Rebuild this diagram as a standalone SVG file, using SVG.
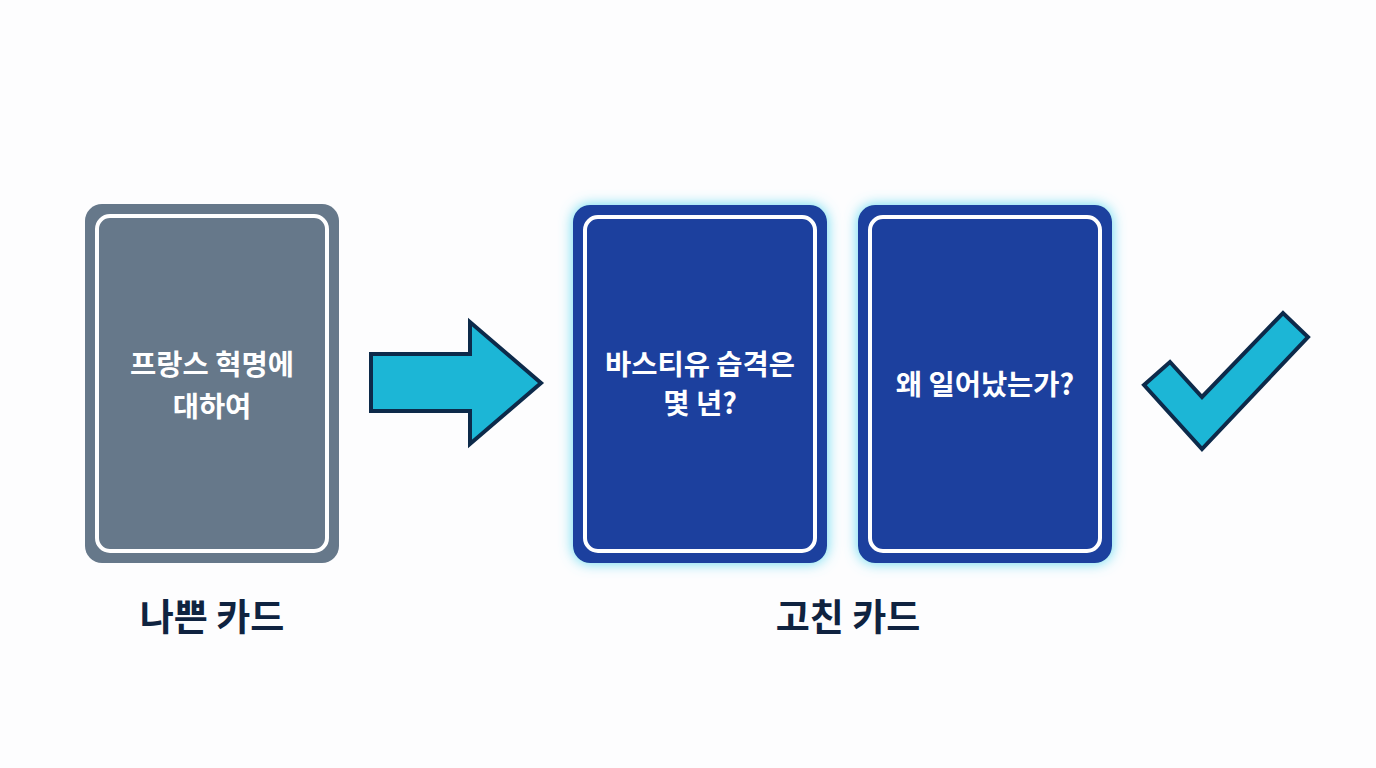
<svg xmlns="http://www.w3.org/2000/svg" width="1376" height="768" viewBox="0 0 1376 768">
<defs>
<filter id="glow" x="-20%" y="-20%" width="140%" height="140%">
<feGaussianBlur in="SourceAlpha" stdDeviation="7" result="b"/>
<feFlood flood-color="#5fd8f0" flood-opacity="1"/>
<feComposite in2="b" operator="in" result="g"/>
<feMerge><feMergeNode in="g"/><feMergeNode in="SourceGraphic"/></feMerge>
</filter>
<style>
.inner{fill:none;stroke:#ffffff;stroke-width:4}
.ct{font-family:"Noto Sans CJK KR","Noto Sans",sans-serif;font-weight:bold;font-size:28.5px;fill:#ffffff;text-anchor:middle}
.lbl{font-family:"Noto Sans CJK KR","Noto Sans",sans-serif;font-weight:bold;font-size:37px;fill:#0f2340;text-anchor:middle}
.sym{fill:#1cb6d6;stroke:#0d2a4a;stroke-width:4;stroke-linejoin:miter}
</style>
</defs>
<rect width="1376" height="768" fill="#fdfdfe"/>
<g id="bad-card">
<rect x="85" y="204" width="254" height="359" rx="17" fill="#66788a"/>
<rect x="97" y="216" width="230" height="335" rx="13" class="inner"/>
<text class="ct" x="212" y="375">프랑스 혁명에</text>
<text class="ct" x="212" y="417">대하여</text>
</g>
<g id="connectors">
<polygon class="sym" points="371,354 470,354 470,322 541,383 470,444 470,411 371,411"/>
</g>
<g id="fixed-card-1">
<rect x="573" y="205" width="254" height="358" rx="17" fill="#1e3f9e" filter="url(#glow)"/>
<rect x="585" y="217" width="230" height="334" rx="13" class="inner"/>
<text class="ct" x="700" y="375">바스티유 습격은</text>
<text class="ct" x="700" y="414">몇 년?</text>
</g>
<g id="fixed-card-2">
<rect x="858" y="205" width="254" height="358" rx="17" fill="#1e3f9e" filter="url(#glow)"/>
<rect x="870" y="217" width="230" height="334" rx="13" class="inner"/>
<text class="ct" x="985" y="395">왜 일어났는가?</text>
</g>
<g id="check">
<polygon class="sym" points="1144,385 1170,362 1202,397 1283,313 1308,337 1202,449"/>
</g>
<g id="labels">
<text class="lbl" x="212" y="631">나쁜 카드</text>
<text class="lbl" x="848" y="631">고친 카드</text>
</g>
</svg>
